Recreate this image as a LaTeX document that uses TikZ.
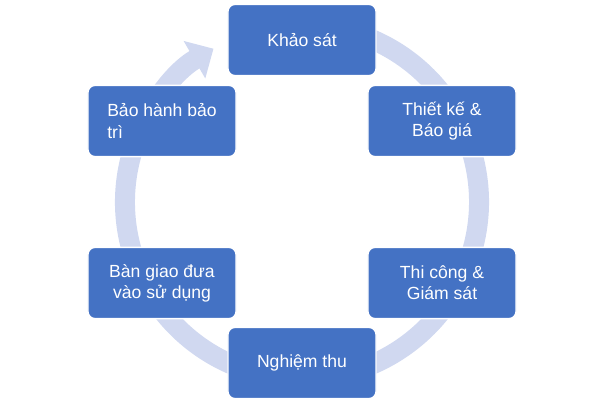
\documentclass[tikz,border=0pt]{standalone}
\usepackage{fontspec}
\setmainfont{Liberation Sans}
\usetikzlibrary{arrows.meta}
\definecolor{boxblue}{RGB}{68,114,196}
\definecolor{ringblue}{RGB}{208,216,240}
\tikzset{
	stepbox/.style={draw=white,line width=1pt,fill=boxblue,rounded corners=5pt,
		minimum width=3.7cm,minimum height=1.78cm,text=white,font=\fontsize{12.5}{15}\selectfont,align=center}
}
\begin{document}
\begin{tikzpicture}[x=0.025cm,y=-0.025cm]
	\useasboundingbox (0,0) rectangle (600,412);
	% ring with arrow
	\draw[ringblue,line width=0.5cm,-{Triangle[width=1.05cm,length=0.55cm]}]
		(302,202) ++(-75:177) arc[start angle=-75,end angle=240,radius=177];
	\node[stepbox] (survey) at (302,40) {Khảo sát};
	\node[stepbox] (design) at (442,121) {Thiết kế \&\\Báo giá};
	\node[stepbox] (build) at (442,283) {Thi công \&\\Giám sát};
	\node[stepbox] (accept) at (302,363) {Nghiệm thu};
	\node[stepbox] (handover) at (162,283) {Bàn giao đưa\\vào sử dụng};
	\node[stepbox,align=left] (warranty) at (162,121) {Bảo hành bảo\\trì\phantom{nh bảo}};
\end{tikzpicture}
\end{document}
